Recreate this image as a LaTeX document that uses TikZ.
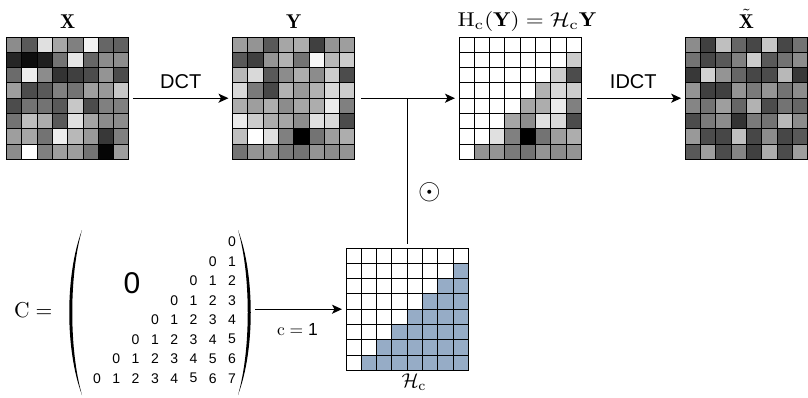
\documentclass[tikz,border=0pt]{standalone}
\usepackage{amsmath}
\usepackage{graphicx}
\usepackage{fontspec}
\setsansfont{Liberation Sans}
\usetikzlibrary{arrows.meta,calc}
\definecolor{hcblue}{RGB}{150,172,198}
\tikzset{
  cell/.style={draw=black, line width=0.9pt},
  gridbox/.style={rectangle, minimum size=122.4pt, inner sep=0pt, outer sep=0pt},
  conn/.style={line width=1.3pt, -{Stealth[length=10pt,width=9pt,inset=2.5pt]}},
  plainline/.style={line width=1.3pt},
  toplabel/.style={anchor=base, inner sep=0pt},
  oplabel/.style={font=\sffamily\fontsize{20}{20}\selectfont},
  num/.style={font=\sffamily\fontsize{14}{14}\selectfont, inner sep=0pt},
}
\newcommand\mygrid[4]{%
  \foreach \rowv [count=\r] in #3 {%
    \foreach \v [count=\c] in \rowv {%
      \pgfmathtruncatemacro\s{\r+\c}%
      \ifnum#4=1 \ifnum\s<10 \def\w{100}\else\edef\w{\v}\fi\else\edef\w{\v}\fi
      \filldraw[cell, fill=white!\w!black] ({#1+(\c-1)*15.3},{#2+(\r-1)*15.3}) rectangle ++(15.3,15.3);
    }%
  }%
}
\def\Xvals{{55,35,88,65,50,95,40,38},{15,5,12,45,90,40,55,55},{42,93,55,20,25,30,58,30},{62,30,35,50,45,62,60,78},{30,45,45,35,78,30,50,50},{45,75,68,35,88,65,55,55},{62,65,45,93,72,60,22,50},{55,100,50,62,62,45,2,62}}
\def\Yvals{{62,58,35,65,68,25,58,62},{35,25,58,70,45,97,72,80},{72,85,35,55,68,55,80,30},{85,48,28,70,60,70,85,80},{68,62,68,55,65,68,92,50},{92,80,68,65,55,88,85,30},{75,100,88,50,0,45,62,68},{45,58,58,48,45,58,55,58}}
\def\Tvals{{55,25,75,40,28,78,28,45},{45,28,35,50,80,35,45,55},{22,82,58,40,28,30,72,22},{58,25,25,58,48,58,45,55},{52,45,62,40,70,30,45,40},{30,48,55,20,48,45,72,55},{60,30,28,75,28,55,28,35},{35,62,30,52,25,68,30,62}}
\begin{document}
\begin{tikzpicture}[x=1pt,y=-1pt]
\useasboundingbox (0,0) rectangle (808,397);

% grids
\node[gridbox] (X) at (67.7,98.2) {};
\node[gridbox] (Y) at (293.7,98.2) {};
\node[gridbox] (HY) at (520.2,98.2) {};
\node[gridbox] (Xt) at (746.4,98.2) {};
\node[gridbox] (Hc) at (407.2,309.2) {};

\mygrid{6.5}{37}{\Xvals}{0}
\mygrid{232.5}{37}{\Yvals}{0}
\mygrid{459}{37}{\Yvals}{1}
\mygrid{685.2}{37}{\Tvals}{0}

\foreach \r in {1,...,8} {
  \foreach \c in {1,...,8} {
    \pgfmathtruncatemacro\s{\r+\c}
    \ifnum\s<10 \def\fc{white}\else\def\fc{hcblue}\fi
    \filldraw[cell, fill=\fc] ({346+(\c-1)*15.3},{248+(\r-1)*15.3}) rectangle ++(15.3,15.3);
  }
}

% top labels
\node[toplabel] (lX) at (67.7,28) {\scalebox{2.0}{$\mathbf{X}$}};
\node[toplabel] (lY) at (293.7,28) {\scalebox{2.0}{$\mathbf{Y}$}};
\node[toplabel] (lHY) at (527,26.5) {\scalebox{2.3}[2.0]{$\mathrm{H}_{\mathrm{c}}(\mathbf{Y}) = \mathcal{H}_{\mathrm{c}}\mathbf{Y}$}};
\node[toplabel] (lXt) at (746.4,28) {\scalebox{2.0}{$\tilde{\mathbf{X}}$}};
\node[toplabel] (lHc) at (414,387) {\scalebox{2.0}{$\mathcal{H}_{\mathrm{c}}$}};

% connectors top
\draw[conn, shorten <=4pt, shorten >=4pt] (X.east) -- (Y.west)
  node[oplabel, midway, above=6pt] (dct) {DCT};
\coordinate (j) at (Hc.north |- Y.east);
\draw[conn, shorten <=6pt, shorten >=4pt] (Y.east) -- (HY.west);
\draw[conn, shorten <=6pt, shorten >=4pt] (HY.east) -- (Xt.west)
  node[oplabel, midway, above=6pt] (idct) {IDCT};
\draw[plainline, shorten >=4pt] (j) -- (Hc.north);
\node[inner sep=0pt] (odot) at (430,192) {\scalebox{2.9}{$\odot$}};

% C matrix
\node[anchor=west, inner sep=0pt] (Clab) at (14,310) {\scalebox{2.15}{$\mathrm{C} =$}};
\node[rectangle, minimum width=176pt, minimum height=165pt, inner sep=0pt] (Cm) at (160,312.5) {};
\fill (82,230) .. controls (65,275) and (65,350) .. (82,395) .. controls (69,350) and (69,275) .. (82,230) -- cycle;
\fill (238,230) .. controls (255,275) and (255,350) .. (238,395) .. controls (251,350) and (251,275) .. (238,230) -- cycle;
\node[font=\sffamily\fontsize{30}{30}\selectfont, inner sep=0pt] (big0) at (132,283) {0};
\foreach \r in {1,...,8} {
  \foreach \n in {0,...,7} {
    \ifnum\n<\r
      \pgfmathsetmacro\k{8-\r+\n}
      \node[num] (n-\r-\n) at ({97+19.3*\k},{241.7+19.5*(\r-1)}) {\n};
    \fi
  }
}
\draw[conn, shorten <=7pt, shorten >=4pt] (Cm.east |- Hc.west) -- (Hc.west);
\node[anchor=base, inner sep=0pt] (clab) at (297.5,335) {\scalebox{1.75}{$\mathrm{c} = \text{\sffamily 1}$}};
\end{tikzpicture}
\end{document}
